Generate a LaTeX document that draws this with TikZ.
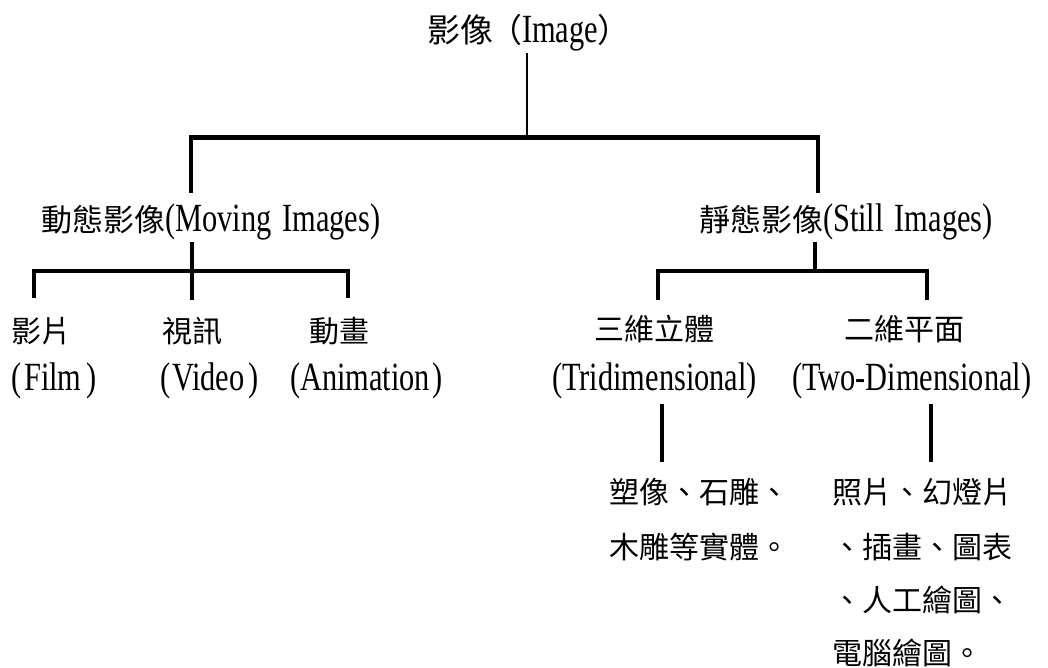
\documentclass[tikz,border=0pt]{standalone}
\usepackage{fontspec}
\setmainfont{Liberation Serif}[FakeStretch=0.76]
\newfontfamily\cjk{Noto Sans CJK TC}
\newcommand\zh[1]{{\cjk\fontsize{31}{40}\selectfont #1}}
\newcommand\zht[1]{{\cjk\fontsize{33}{40}\selectfont #1}}
\begin{document}
\begin{tikzpicture}[x=1pt,y=-1pt,
  lbl/.style={inner sep=0pt, outer sep=0pt, anchor=base west, font=\fontsize{40}{46}\selectfont},
  zlbl/.style={inner sep=0pt, outer sep=0pt, anchor=base west, font=\cjk\fontsize{30}{40}\selectfont},
  barline/.style={line width=5pt},
  link/.style={line width=3.6pt, line join=miter},
  thinlink/.style={line width=2.2pt}]
\useasboundingbox[fill=white] (0,0) rectangle (1048,667);
% texts
\node[lbl] (title) at (427,42) {\zht{影像}\kern-4pt\zht{（}Image\zht{）}};
\node[lbl] (moving) at (41,231) {\zh{動態影像}(Moving\hspace{11pt}Images)};
\node[lbl] (still) at (699,231) {\zh{靜態影像}(Still\hspace{11pt}Images)};
\node[zlbl] (film1) at (11,342) {影片};
\node[zlbl] (video1) at (162,342) {視訊};
\node[zlbl] (anim1) at (309,342) {動畫};
\node[lbl] (film2) at (12,390) {(\kern2pt Film\kern5pt)};
\node[lbl] (video2) at (160,390) {(\kern2pt Video\kern4pt)};
\node[lbl] (anim2) at (290,390) {(Animation\kern2pt)};
\node[zlbl] (tri1) at (594,340) {三維立體};
\node[zlbl] (two1) at (844,340) {二維平面};
\node[lbl] (tri2) at (552,390) {(Tridimensional)};
\node[lbl] (two2) at (792,390) {(Two-Dimensional)};
\node[zlbl] (d1a) at (609,503) {塑像、石雕、};
\node[zlbl] (d1b) at (609,558) {木雕等實體。};
\node[zlbl] (d2a) at (832,503) {照片、幻燈片};
\node[zlbl] (d2b) at (832,558) {、插畫、圖表};
\node[zlbl] (d2c) at (832,611) {、人工繪圖、};
\node[zlbl] (d2d) at (832,664) {電腦繪圖。};
% junction coordinates
\coordinate (tTop) at (527,53);
\coordinate (tBar) at (527,137);
\coordinate (barL) at (189,137);
\coordinate (barR) at (820,137);
\coordinate (mvUp) at (191,137);
\coordinate (mvEnd) at (191,193);
\coordinate (stUp) at (818,137);
\coordinate (stEnd) at (818,193);
\coordinate (mvS0) at (192,242);
\coordinate (mvS1) at (192,300);
\coordinate (mvA) at (34,298);
\coordinate (mvAh) at (34,271);
\coordinate (mvCh) at (348,271);
\coordinate (mvC) at (348,298);
\coordinate (stS0) at (815,242);
\coordinate (stS1) at (815,271);
\coordinate (stA) at (658,300);
\coordinate (stAh) at (658,271);
\coordinate (stBh) at (927,271);
\coordinate (stB) at (927,300);
\coordinate (triS0) at (662,404);
\coordinate (triS1) at (662,462);
\coordinate (twoS0) at (931,404);
\coordinate (twoS1) at (931,462);
% connectors
\draw[thinlink] (tTop) -- (tBar);
\draw[barline] (barL) -- (barR);
\draw[link] (mvUp) -- (mvEnd);
\draw[link] (stUp) -- (stEnd);
\draw[link] (mvS0) -- (mvS1);
\draw[link] (mvA) -- (mvAh) -- (mvCh) -- (mvC);
\draw[link] (stS0) -- (stS1);
\draw[link] (stA) -- (stAh) -- (stBh) -- (stB);
\draw[link] (triS0) -- (triS1);
\draw[link] (twoS0) -- (twoS1);
\end{tikzpicture}
\end{document}
